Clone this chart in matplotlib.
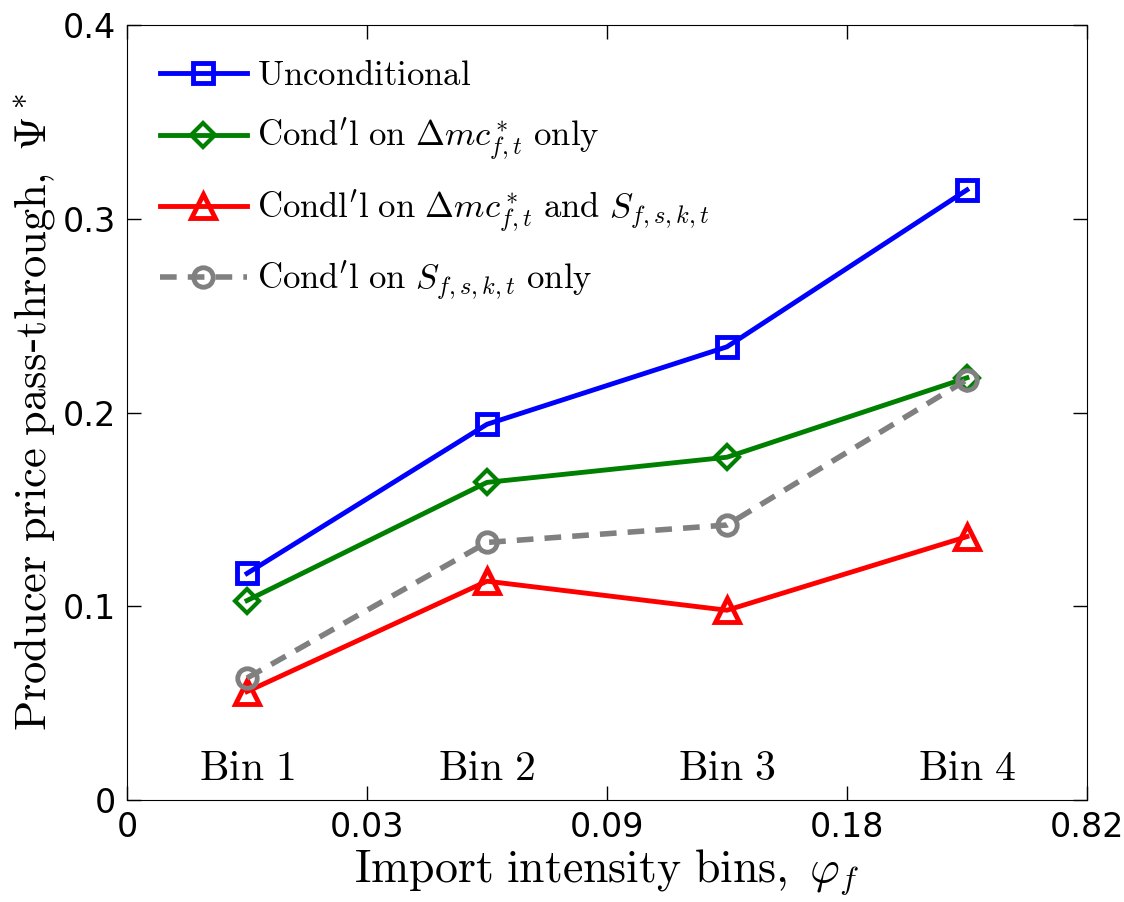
import numpy as np
import matplotlib.pyplot as plt

plt.rcParams['mathtext.fontset'] = 'cm'

bins = [0.5, 1.5, 2.5, 3.5]
bin_labels = ['Bin 1', 'Bin 2', 'Bin 3', 'Bin 4']
tick_labels = ['0', '0.03', '0.09', '0.18', '0.82']

unconditional = [0.117, 0.194, 0.234, 0.315]
cond_mc = [0.103, 0.164, 0.177, 0.218]
cond_mc_s = [0.056, 0.113, 0.098, 0.136]
cond_s = [0.063, 0.133, 0.142, 0.217]

fig = plt.figure(figsize=(11.24, 9.02), dpi=100)
ax = fig.add_axes([0.113, 0.113, 0.854, 0.859])

ax.plot(bins, unconditional, color='#0000ff', lw=3.5, marker='s', ms=15, mew=3.5,
        mfc='none', label=r'$\mathrm{Unconditional}$')
ax.plot(bins, cond_mc, color='#008000', lw=3.5, marker='D', ms=12, mew=3,
        mfc='none', label=r"$\mathrm{Cond'l\ on}\ \Delta mc^*_{f,t}\ \mathrm{only}$")
ax.plot(bins, cond_mc_s, color='#ff0000', lw=3.5, marker='^', ms=17, mew=3.5,
        mfc='none', label=r"$\mathrm{Condl'l\ on}\ \Delta mc^*_{f,t}\ \mathrm{and}\ S_{f,s,k,t}$")
ax.plot(bins, cond_s, color='#808080', lw=4, ls=(0, (3, 2)), marker='o', ms=14, mew=3.5,
        mfc='none', label=r"$\mathrm{Cond'l\ on}\ S_{f,s,k,t}\ \mathrm{only}$")

for x, t in zip(bins, bin_labels):
    ax.text(x, 0.0165, r'$\mathrm{' + t.replace(' ', r'\ ') + '}$', ha='center', va='center', fontsize=30)

ax.set_xlim(0, 4)
ax.set_ylim(0, 0.4)
ax.set_xticks(range(5))
ax.set_xticklabels(tick_labels)
ax.set_yticks([0, 0.1, 0.2, 0.3, 0.4])
ax.set_yticklabels(['0', '0.1', '0.2', '0.3', '0.4'])
ax.tick_params(direction='in', top=True, right=True, length=10, width=1, labelsize=24, pad=8)
for lab in ax.get_xticklabels() + ax.get_yticklabels():
    lab.set_fontfamily('Liberation Sans Narrow')

ax.set_xlabel(r'$\mathrm{Import\ intensity\ bins,}\ \varphi_f$', fontsize=33, labelpad=2)
ax.set_ylabel(r'$\mathrm{Producer\ price\ pass}$-$\mathrm{through,}\ \Psi^*$', fontsize=32, labelpad=4)

ax.legend(loc='upper left', frameon=False, fontsize=25, handlelength=2.5, handletextpad=0.3,
          labelspacing=0.72, borderaxespad=0.5, borderpad=0.45)

fig.savefig('out.png', dpi=100)
